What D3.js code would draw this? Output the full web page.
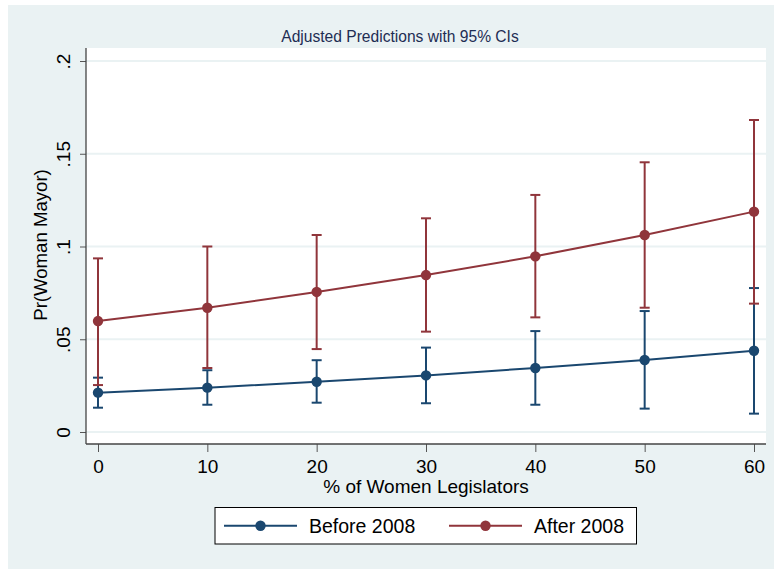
<!DOCTYPE html>
<html>
<head>
<meta charset="utf-8">
<script src="https://cdn.jsdelivr.net/npm/d3@7"></script>
<style>
  body { margin: 0; background: #fff; }
  text { font-family: "Liberation Sans", Arial, sans-serif; }
</style>
</head>
<body>
<div id="chart"></div>
<script>
// values
const legislators = [0, 10, 20, 30, 40, 50, 60];
const beforeMean = [0.0212, 0.0239, 0.0271, 0.0305, 0.0345, 0.0388, 0.0438];
const beforeLo   = [0.0131, 0.0147, 0.0158, 0.0155, 0.0147, 0.0126, 0.0099];
const beforeHi   = [0.0293, 0.0333, 0.0387, 0.0455, 0.0544, 0.0652, 0.0776];
const afterMean  = [0.0598, 0.0670, 0.0755, 0.0846, 0.0947, 0.1062, 0.1188];
const afterLo    = [0.0253, 0.0345, 0.0447, 0.0541, 0.0618, 0.0670, 0.0692];
const afterHi    = [0.0936, 0.1000, 0.1062, 0.1152, 0.1278, 0.1454, 0.1682];
const yTicks = [0, 0.05, 0.1, 0.15, 0.2];
const yTickLabels = ["0", ".05", ".1", ".15", ".2"];
const xTicks = [0, 10, 20, 30, 40, 50, 60];

const series = [
  { name: "Before 2008", color: "#1a476f", mean: beforeMean, lo: beforeLo, hi: beforeHi },
  { name: "After 2008", color: "#90353b", mean: afterMean, lo: afterLo, hi: afterHi }
];

const W = 774, H = 569;
const plot = { left: 86, right: 766, top: 48, bottom: 444 };

const svg = d3.select("#chart").append("svg")
  .attr("width", W)
  .attr("height", H);

// stata-ish background
svg.append("rect").attr("x", 8).attr("y", 5).attr("width", W - 8).attr("height", H - 5)
  .attr("fill", "#eaf2f3");
svg.append("rect")
  .attr("x", plot.left).attr("y", plot.top)
  .attr("width", plot.right - plot.left).attr("height", plot.bottom - plot.top)
  .attr("fill", "#fff");

const x = d3.scaleLinear().domain([0, 60]).range([98, 754]);
const y = d3.scaleLinear().domain([0, 0.2]).range([432, 61]);

// gridlines
svg.append("g")
  .selectAll("line")
  .data(yTicks)
  .join("line")
  .attr("x1", plot.left).attr("x2", plot.right)
  .attr("y1", d => y(d)).attr("y2", d => y(d))
  .attr("stroke", "#eaf2f3")
  .attr("stroke-width", 2);

// y axis
const yAxis = svg.append("g")
  .attr("transform", `translate(${plot.left},0)`)
  .call(d3.axisLeft(y).tickValues(yTicks).tickSize(6).tickFormat((d, i) => yTickLabels[i]));
yAxis.select(".domain").remove();
yAxis.selectAll(".tick line").attr("stroke", "#555");
yAxis.selectAll(".tick text")
  .attr("transform", "rotate(-90)")
  .attr("x", 0).attr("y", -16)
  .attr("dy", 0)
  .attr("text-anchor", "middle")
  .style("font-size", "19px")
  .style("fill", "#000");
svg.append("line")
  .attr("x1", plot.left).attr("x2", plot.left)
  .attr("y1", plot.top).attr("y2", plot.bottom)
  .attr("stroke", "#444").attr("stroke-width", 1.3);

// x axis
const xAxis = svg.append("g")
  .attr("transform", `translate(0,${plot.bottom})`)
  .call(d3.axisBottom(x).tickValues(xTicks).tickSize(8).tickPadding(6));
xAxis.select(".domain").remove();
xAxis.selectAll(".tick line").attr("stroke", "#555");
xAxis.selectAll(".tick text")
  .attr("y", 29).attr("dy", 0)
  .style("font-size", "19px")
  .style("fill", "#000");
svg.append("line")
  .attr("x1", plot.left).attr("x2", plot.right)
  .attr("y1", plot.bottom).attr("y2", plot.bottom)
  .attr("stroke", "#444").attr("stroke-width", 1.3);

// titles
svg.append("text")
  .attr("x", 400).attr("y", 42)
  .attr("text-anchor", "middle")
  .style("font-size", "15.6px")
  .style("fill", "#1e2d53")
  .text("Adjusted Predictions with 95% CIs");

svg.append("text")
  .attr("x", (plot.left + plot.right) / 2).attr("y", 493)
  .attr("text-anchor", "middle")
  .style("font-size", "19px")
  .text("% of Women Legislators");

svg.append("text")
  .attr("transform", "translate(47,245) rotate(-90)")
  .attr("text-anchor", "middle")
  .style("font-size", "18.6px")
  .text("Pr(Woman Mayor)");

// confidence intervals
const capW = 5;
series.forEach(s => {
  const g = svg.append("g").attr("stroke", s.color).attr("stroke-width", 2).attr("fill", "none");
  g.selectAll("line.bar")
    .data(legislators)
    .join("line").attr("class", "bar")
    .attr("x1", d => x(d)).attr("x2", d => x(d))
    .attr("y1", (d, i) => y(s.lo[i])).attr("y2", (d, i) => y(s.hi[i]));
  g.selectAll("line.capLo")
    .data(legislators)
    .join("line").attr("class", "capLo")
    .attr("x1", d => x(d) - capW).attr("x2", d => x(d) + capW)
    .attr("y1", (d, i) => y(s.lo[i])).attr("y2", (d, i) => y(s.lo[i]));
  g.selectAll("line.capHi")
    .data(legislators)
    .join("line").attr("class", "capHi")
    .attr("x1", d => x(d) - capW).attr("x2", d => x(d) + capW)
    .attr("y1", (d, i) => y(s.hi[i])).attr("y2", (d, i) => y(s.hi[i]));
});

// lines + markers
const line = d3.line().x(d => x(d[0])).y(d => y(d[1]));
series.forEach(s => {
  const pts = legislators.map((v, i) => [v, s.mean[i]]);
  svg.append("path")
    .datum(pts)
    .attr("d", line)
    .attr("fill", "none")
    .attr("stroke", s.color)
    .attr("stroke-width", 2);
  svg.append("g")
    .selectAll("circle")
    .data(pts)
    .join("circle")
    .attr("cx", d => x(d[0]))
    .attr("cy", d => y(d[1]))
    .attr("r", 5.2)
    .attr("fill", s.color);
});

// legend
const legend = svg.append("g");
legend.append("rect")
  .attr("x", 215).attr("y", 507.5)
  .attr("width", 421.5).attr("height", 36.5)
  .attr("fill", "#fff")
  .attr("stroke", "#000")
  .attr("stroke-width", 1);
const legendX = [224, 449];
series.forEach((s, i) => {
  const lx = legendX[i];
  legend.append("line")
    .attr("x1", lx).attr("x2", lx + 73)
    .attr("y1", 525.7).attr("y2", 525.7)
    .attr("stroke", s.color).attr("stroke-width", 2);
  legend.append("circle")
    .attr("cx", lx + 36.5).attr("cy", 525.7).attr("r", 5.2)
    .attr("fill", s.color);
  legend.append("text")
    .attr("x", lx + 85).attr("y", 533)
    .style("font-size", "19.5px")
    .text(s.name);
});
</script>
</body>
</html>
